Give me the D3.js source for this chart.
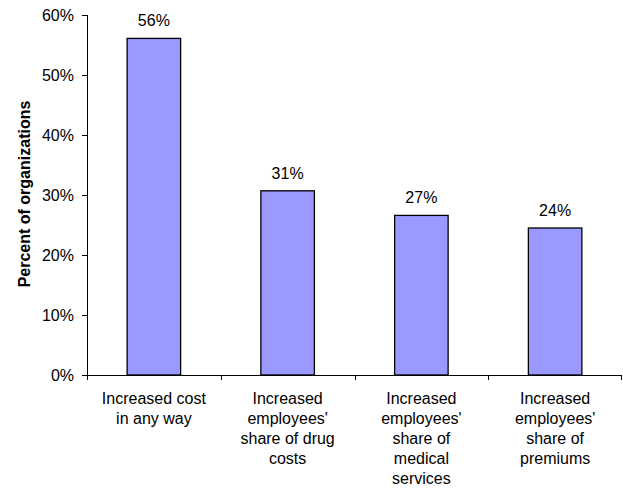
<!DOCTYPE html>
<html>
<head>
<meta charset="utf-8">
<script src="https://cdn.jsdelivr.net/npm/d3@7"></script>
<style>
  html, body { margin: 0; padding: 0; background: #fff; }
  svg { display: block; font-family: "Liberation Sans", Arial, sans-serif; }
</style>
</head>
<body>
<svg id="chart" width="623" height="489"></svg>
<script>
const categories = [
  ["Increased cost", "in any way"],
  ["Increased", "employees'", "share of drug", "costs"],
  ["Increased", "employees'", "share of", "medical", "services"],
  ["Increased", "employees'", "share of", "premiums"]
];
const values = [0.561, 0.307, 0.266, 0.245];
const valueLabels = ["56%", "31%", "27%", "24%"];
const yTicks = [0, 0.1, 0.2, 0.3, 0.4, 0.5, 0.6];
const yTitle = "Percent of organizations";

(function () {
const svg = d3.select("#chart");
const pLeft = 87, pRight = 622, pTop = 15, pBottom = 375;

const ids = categories.map((c, i) => i);
const x = d3.scaleBand().domain(ids).range([pLeft, pRight]).paddingInner(0.6).paddingOuter(0.3);
const y = d3.scaleLinear().domain([0, 0.6]).range([pBottom, pTop]);

// bars
svg.append("g").selectAll("rect").data(values).join("rect")
  .attr("x", (d, i) => x(i))
  .attr("y", d => y(d))
  .attr("width", x.bandwidth())
  .attr("height", d => y(0) - y(d))
  .attr("fill", "#9999FF")
  .attr("stroke", "#000")
  .attr("stroke-width", 1.3);

// value labels
svg.append("g").selectAll("text").data(values).join("text")
  .attr("x", (d, i) => x(i) + x.bandwidth() / 2)
  .attr("y", d => y(d) - 12)
  .attr("text-anchor", "middle")
  .attr("font-size", 16)
  .attr("fill", "#000")
  .text((d, i) => valueLabels[i]);

// y axis
const yAxis = d3.axisLeft(y).tickValues(yTicks).tickFormat(d3.format(".0%")).tickSize(5).tickPadding(8);
const gy = svg.append("g").attr("transform", `translate(${pLeft},0)`).call(yAxis);
gy.select(".domain").attr("stroke", "#000").attr("d", `M0.5,${pTop}V${pBottom}`);
gy.selectAll(".tick line").attr("stroke", "#000");
gy.selectAll(".tick text").attr("font-size", 16).attr("font-family", "Liberation Sans, Arial, sans-serif").attr("fill", "#000");

// x axis line and boundary ticks
const step = x.step();
const start = x(0) - step * x.paddingOuter();
const bounds = d3.range(categories.length + 1).map(i => start + i * step);
const gx = svg.append("g");
gx.append("line").attr("x1", pLeft).attr("x2", pRight).attr("y1", pBottom + 0.5).attr("y2", pBottom + 0.5).attr("stroke", "#000");
gx.selectAll("line.t").data(bounds).join("line").attr("class", "t")
  .attr("x1", d => Math.min(Math.round(d), pRight - 1) + 0.5).attr("x2", d => Math.min(Math.round(d), pRight - 1) + 0.5)
  .attr("y1", pBottom).attr("y2", pBottom + 5).attr("stroke", "#000");

// category labels
const cl = svg.append("g").selectAll("text").data(categories).join("text")
  .attr("text-anchor", "middle")
  .attr("font-size", 16)
  .attr("fill", "#000");
cl.each(function(lines, i) {
  const t = d3.select(this);
  lines.forEach((ln, j) => {
    t.append("tspan")
      .attr("x", x(i) + x.bandwidth() / 2)
      .attr("y", 403.5 + j * 20)
      .text(ln);
  });
});

// y title
svg.append("text")
  .attr("transform", `translate(30,194) rotate(-90)`)
  .attr("text-anchor", "middle")
  .attr("font-size", 16)
  .attr("font-weight", "bold")
  .attr("fill", "#000")
  .text(yTitle);
})();
</script>
</body>
</html>
